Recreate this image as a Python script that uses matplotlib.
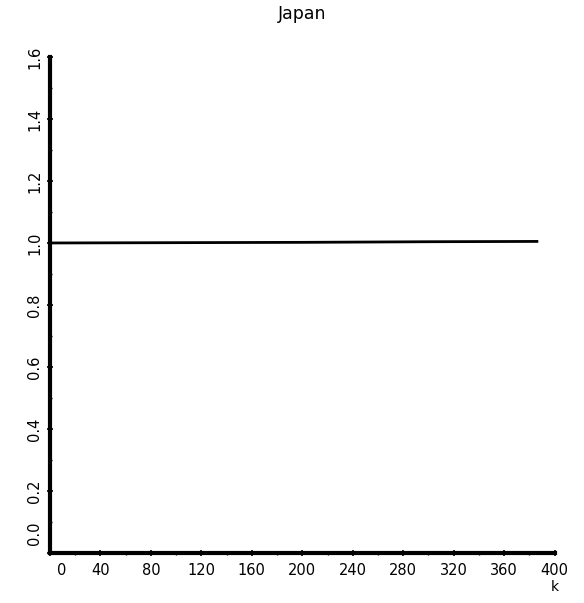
import matplotlib.pyplot as plt
from matplotlib.ticker import MultipleLocator
import matplotlib.transforms as mtransforms

# Data
k = [0, 100, 200, 300, 386]
ratio = [1.0, 1.001, 1.002, 1.004, 1.005]

x_ticks = [0, 40, 80, 120, 160, 200, 240, 280, 320, 360, 400]
y_ticks = [0.0, 0.2, 0.4, 0.6, 0.8, 1.0, 1.2, 1.4, 1.6]

fig = plt.figure(figsize=(5.84, 6.03), dpi=100)
ax = fig.add_axes([0.0856, 0.083, 0.864, 0.8225])

ax.plot(k, ratio, color='black', linewidth=2)

ax.set_xlim(0, 400)
ax.set_ylim(0, 1.6)
ax.set_xticks(x_ticks)
ax.set_yticks(y_ticks)
ax.set_xticklabels([str(t) for t in x_ticks])
ax.set_yticklabels([f"{t:.1f}" for t in y_ticks], rotation=90, va='center')
ax.xaxis.set_minor_locator(MultipleLocator(20))
ax.yaxis.set_minor_locator(MultipleLocator(0.1))

ax.tick_params(which='major', direction='inout', length=5, width=1.2,
               labelsize=10.5, colors='black')
ax.tick_params(axis='x', which='major', pad=5)
ax.tick_params(axis='y', which='major', pad=3)
ax.tick_params(which='minor', direction='inout', length=3, width=1)

for side in ['top', 'right']:
    ax.spines[side].set_visible(False)
for side in ['left', 'bottom']:
    ax.spines[side].set_linewidth(3)

# origin labels sit a bit away from the corner
ax.get_xticklabels()[0].set_transform(
    ax.get_xticklabels()[0].get_transform()
    + mtransforms.ScaledTranslation(0.12, 0, fig.dpi_scale_trans))
ax.get_yticklabels()[0].set_transform(
    ax.get_yticklabels()[0].get_transform()
    + mtransforms.ScaledTranslation(0, 0.2, fig.dpi_scale_trans))

ax.set_title('Japan', fontsize=12.5, pad=27)
ax.text(400, -0.11, 'k', ha='center', va='center', fontsize=10)

fig.savefig('out.png', dpi=100)
